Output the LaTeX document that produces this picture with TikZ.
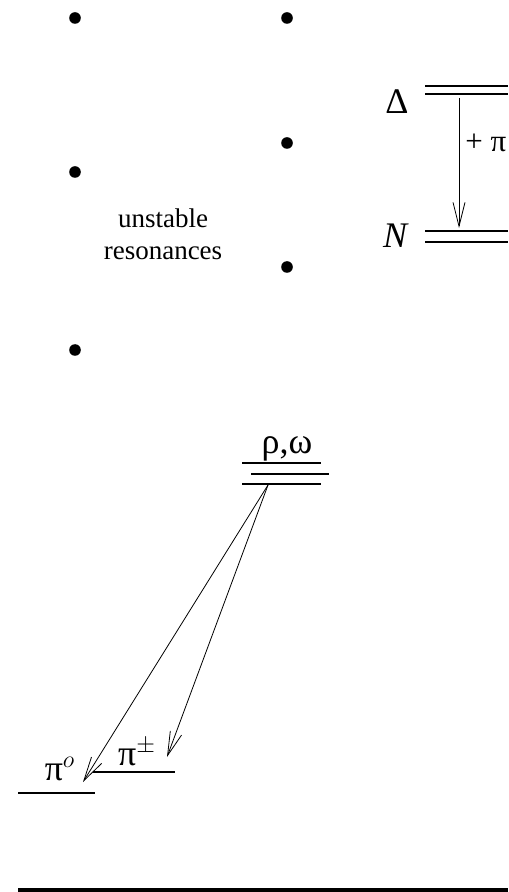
\documentclass[tikz,border=0pt]{standalone}
\usepackage{fontspec}
\setmainfont{Liberation Serif}
\usetikzlibrary{arrows.meta, positioning}

\begin{document}
\begin{tikzpicture}[x=0.5pt,y=-0.5pt,
  dot/.style={circle,fill,inner sep=0pt,minimum size=5.8pt},
  level/.style={line width=0.6pt},
  greek/.style={font=\fontsize{18}{20}\selectfont},
  decay/.style={-{Straight Barb[length=12pt,width=6pt]},line width=0.4pt},
  font=\fontsize{13.5}{16}\selectfont]
  \useasboundingbox (0,0) rectangle (508,892);
  % dots
  \node[dot] (d1) at (75,18) {};
  \node[dot] (d2) at (287,18) {};
  \node[dot] (d3) at (287,143) {};
  \node[dot] (d4) at (75,172) {};
  \node[dot] (d5) at (287,267) {};
  \node[dot] (d6) at (75,350) {};
  \node[align=center] (unst) at (163,234) {unstable\\resonances};
  % Delta -> N
  \draw[level] (425,86) -- (508,86) (425,94) -- (508,94);
  \draw[level] (425,231) -- (508,231) (425,242) -- (508,242);
  \node[greek] (delta) at (397,102) {Δ};
  \node[greek] (nlab) at (396,236) {\textit{N}};
  \coordinate (dtop) at (459,98);
  \coordinate (nbot) at (459,228);
  \draw[decay] (dtop) -- (nbot);
  \node[font=\fontsize{15.5}{18}\selectfont,anchor=west,inner sep=0pt] (pilab) at (465,143) {+ π};
  % rho, omega -> pions
  \draw[level] (242,463) -- (321,463) (251,474) -- (329,474) (242,484) -- (321,484);
  \node[greek] (rholab) at (287,449) {ρ,ω};
  \coordinate (rho) at (268,485);
  \draw[level] (18,793) -- (95,793);
  \draw[level] (93,772) -- (175,772);
  \node[greek] (pi0) at (60,769) {π$^o$};
  \node[greek] (pipm) at (137,752) {π$^\pm$};
  \coordinate (pi0end) at (83,782);
  \coordinate (pipmend) at (167,757);
  \draw[decay] (rho) -- (pi0end);
  \draw[decay] (rho) -- (pipmend);
  % base line
  \draw[line width=2pt] (18,890) -- (508,890);
\end{tikzpicture}
\end{document}
